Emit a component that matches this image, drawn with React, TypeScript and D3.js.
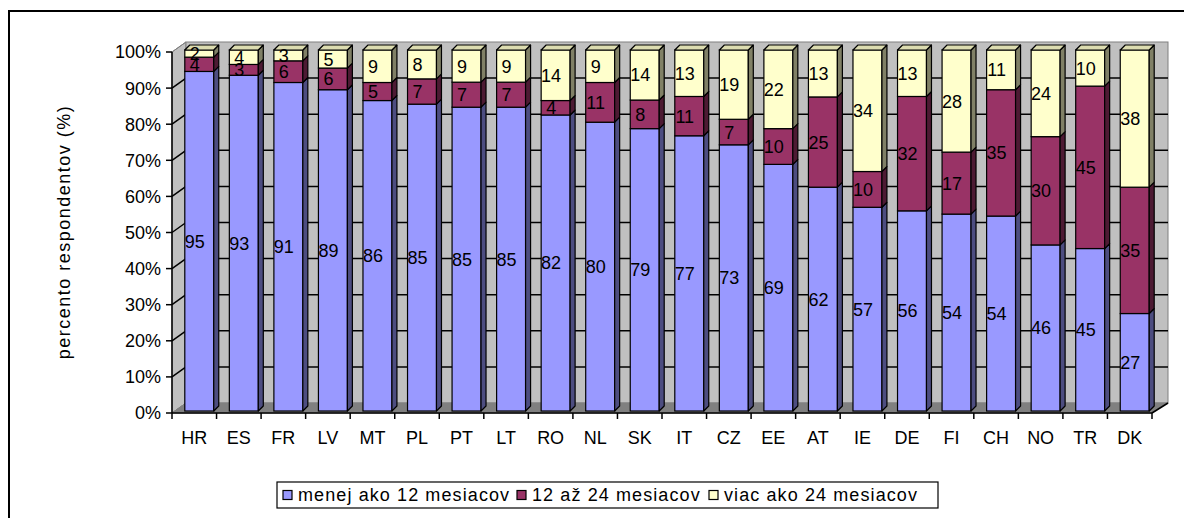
import React from "react";
import * as d3 from "d3";

const categories = ["HR","ES","FR","LV","MT","PL","PT","LT","RO","NL","SK","IT","CZ","EE","AT","IE","DE","FI","CH","NO","TR","DK"];
const lessThan12 = [95,93,91,89,86,85,85,85,82,80,79,77,73,69,62,57,56,54,54,46,45,27];
const from12to24 = [4,3,6,6,5,7,7,7,4,11,8,11,7,10,25,10,32,17,35,30,45,35];
const moreThan24 = [2,4,3,5,9,8,9,9,14,9,14,13,19,22,13,34,13,28,11,24,10,38];
const seriesNames = ["menej ako 12 mesiacov","12 až 24 mesiacov","viac ako 24 mesiacov"];
const yTicks = [0,10,20,30,40,50,60,70,80,90,100];
const yTitle = "percento respondentov (%)";

const frontColors = ["#9999FF","#993366","#FFFFCC"];
const sideColors = ["#4D4D80","#4D1A33","#808066"];
const topColors = ["#7A7ACC","#7A2952","#DCDCB0"];

const FONT = "Arial, 'Liberation Sans', sans-serif";

export default function App() {
  const left = 172, right = 1152, bottom = 413, top = 52;
  const wdx = 14, wdy = -10; // back wall depth
  const bdx = 5, bdy = -2; // bar front plane offset
  const sdx = 5, sdy = -5; // bar depth

  const x = d3.scaleBand<string>().domain(categories).range([left, right]).paddingInner(0.35).paddingOuter(0.175);
  const y = d3.scaleLinear().domain([0, 1]).range([bottom, top]);
  const yp = d3.scaleLinear().domain([0, 100]).range([bottom, top]);

  const rows = categories.map((c, i) => ({ cat: c, a: lessThan12[i], b: from12to24[i], c2: moreThan24[i] }));
  const stack = d3.stack<any>().keys(["a", "b", "c2"]).offset(d3.stackOffsetExpand);
  const series = stack(rows);
  const rawKeys = [lessThan12, from12to24, moreThan24];

  const bw = x.bandwidth();

  const bars: React.ReactNode[] = [];
  const labels: React.ReactNode[] = [];
  categories.forEach((cat, i) => {
    const x0 = (x(cat) as number) + bdx;
    const x1 = x0 + bw;
    series.forEach((s, k) => {
      const [v0, v1] = s[i];
      const yb = y(v0) + bdy;
      const yt = y(v1) + bdy;
      bars.push(
        <g key={`${cat}-${k}`}>
          <rect x={x0} y={yt} width={bw} height={yb - yt} fill={frontColors[k]} stroke="#000" strokeWidth={1.2} />
          <polygon
            points={`${x1},${yb} ${x1 + sdx},${yb + sdy} ${x1 + sdx},${yt + sdy} ${x1},${yt}`}
            fill={sideColors[k]} stroke="#000" strokeWidth={1.2} strokeLinejoin="round" />
          {k === series.length - 1 && (
            <polygon
              points={`${x0},${yt} ${x0 + sdx},${yt + sdy} ${x1 + sdx},${yt + sdy} ${x1},${yt}`}
              fill={topColors[k]} stroke="#000" strokeWidth={1.2} strokeLinejoin="round" />
          )}
        </g>
      );
      labels.push(
        <text key={`l-${cat}-${k}`} x={(x(cat) as number) + bw / 2 + 0.5} y={(yb + yt) / 2} dy="0.36em" textAnchor="middle"
          fontFamily={FONT} fontSize={18} fill="#000">{rawKeys[k][i]}</text>
      );
    });
  });

  const legendX = [283, 517, 709];

  return (
    <svg width={1184} height={518} style={{ position: "absolute", left: 0, top: 0 }}>
      <rect x={0} y={0} width={1184} height={518} fill="#fff" />
      <rect x={9} y={11} width={1300} height={700} fill="none" stroke="#000" strokeWidth={2} />

      {/* left wall */}
      <polygon points={`${left},${top} ${left + wdx},${top + wdy} ${left + wdx},${bottom + wdy} ${left},${bottom}`}
        fill="#C0C0C0" stroke="#808080" strokeWidth={1} />
      {/* back wall */}
      <rect x={left + wdx} y={top + wdy} width={right + 2 + wdx - (left + wdx)} height={bottom - top}
        fill="#C0C0C0" stroke="#808080" strokeWidth={1} />
      {/* floor */}
      <polygon points={`${left},${bottom} ${right},${bottom} ${right + wdx + 2},${bottom + wdy} ${left + wdx},${bottom + wdy}`}
        fill="#808080" stroke="#808080" strokeWidth={1} />

      {/* gridlines */}
      {yTicks.filter(t => t > 0 && t < 100).map(t => (
        <g key={`g${t}`}>
          <line x1={left + wdx} x2={right + wdx + 2} y1={yp(t) + wdy} y2={yp(t) + wdy} stroke="#000" strokeWidth={1.5} />
          <line x1={left} x2={left + wdx} y1={yp(t)} y2={yp(t) + wdy} stroke="#000" strokeWidth={1.5} />
        </g>
      ))}
      <line x1={left} x2={left + wdx} y1={yp(100)} y2={yp(100) + wdy} stroke="#808080" strokeWidth={1} />
      <line x1={left} x2={left + wdx} y1={yp(0)} y2={yp(0) + wdy} stroke="#808080" strokeWidth={1} />
      <line x1={right} x2={right + wdx + 2} y1={bottom} y2={bottom + wdy} stroke="#000" strokeWidth={1.5} />

      {bars}

      {/* axes */}
      <line x1={left} x2={left} y1={top} y2={bottom} stroke="#000" strokeWidth={1.5} />
      <line x1={left} x2={right} y1={bottom} y2={bottom} stroke="#000" strokeWidth={1.5} />
      {yTicks.map(t => (
        <g key={`yt${t}`}>
          <line x1={left - 6} x2={left} y1={yp(t)} y2={yp(t)} stroke="#000" strokeWidth={1.5} />
          <text x={left - 11} y={yp(t)} dy="0.36em" textAnchor="end" fontFamily={FONT} fontSize={18} fill="#000">{t}%</text>
        </g>
      ))}
      {d3.range(categories.length + 1).map(i => {
        const xx = left + x.step() * i;
        return <line key={`xt${i}`} x1={xx} x2={xx} y1={bottom} y2={bottom + 6} stroke="#000" strokeWidth={1.5} />;
      })}
      {categories.map(c => (
        <text key={`xl${c}`} x={(x(c) as number) + bw / 2} y={438} dy="0.36em" textAnchor="middle"
          fontFamily={FONT} fontSize={18} fill="#000">{c}</text>
      ))}

      {labels}

      <text transform={`translate(64,232) rotate(-90)`} textAnchor="middle" dy="0.36em" fontFamily={FONT} fontSize={18}
        letterSpacing={1.5} fill="#000">{yTitle}</text>

      {/* legend */}
      <rect x={277} y={482} width={661} height={26} fill="#fff" stroke="#000" strokeWidth={1.2} />
      {seriesNames.map((n, k) => (
        <g key={`lg${k}`}>
          <rect x={legendX[k]} y={490.5} width={9} height={9} fill={frontColors[k]} stroke="#000" strokeWidth={1.2} />
          <text x={legendX[k] + 15} y={495} dy="0.36em" fontFamily={FONT} fontSize={18} letterSpacing={1.1} fill="#000">{n}</text>
        </g>
      ))}
    </svg>
  );
}
